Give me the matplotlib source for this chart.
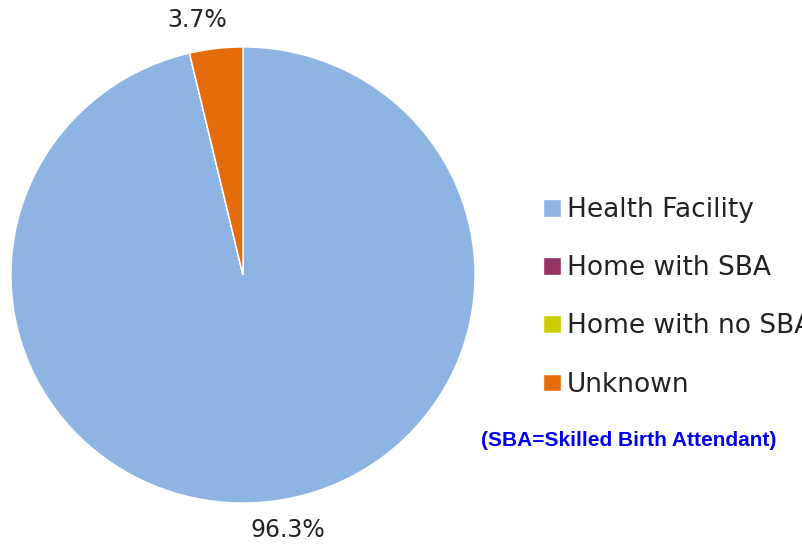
import matplotlib
matplotlib.use("Agg")
from matplotlib import pyplot as plt

# place of delivery shares
categories = ["Health Facility", "Home with SBA", "Home with no SBA", "Unknown"]
shares = [96.3, 0.0, 0.0, 3.7]
colors = ["#8EB4E3", "#953163", "#CCCC00", "#E46C0A"]

W, H = 802, 547
fig = plt.figure(figsize=(W / 100, H / 100), dpi=100)

# pie axes sized to the circle in the reference (pixel box)
ax = fig.add_axes([11 / W, (H - 503) / H, 464 / W, 456 / H])
wedges, _ = ax.pie(shares, colors=colors, startangle=90, counterclock=False,
                   wedgeprops=dict(edgecolor="white", linewidth=1))
ax.set_aspect("auto")
ax.set_xlim(-1, 1)
ax.set_ylim(-1, 1)

# percentage labels (only non-zero slices)
fig.text(197 / W, 1 - 20 / H, f"{shares[3]}%", ha="center", va="center",
         fontsize=17, color="#222222")
fig.text(288 / W, 1 - 530 / H, f"{shares[0]}%", ha="center", va="center",
         fontsize=17, color="#222222")

leg = fig.legend(wedges, categories, loc="upper left",
                 bbox_to_anchor=(543 / W, 1 - 197 / H), frameon=False,
                 fontsize=19, handlelength=0.7, handleheight=0.65,
                 handletextpad=0.2, labelspacing=1.22, borderpad=0,
                 borderaxespad=0)
for t in leg.get_texts():
    t.set_color("#222222")

fig.text(481 / W, 1 - 440 / H, "(SBA=Skilled Birth Attendant)", ha="left",
         va="center", fontsize=15, fontweight="bold", color="#0000EE",
         family="Liberation Sans")

fig.savefig("out.png", dpi=100)
